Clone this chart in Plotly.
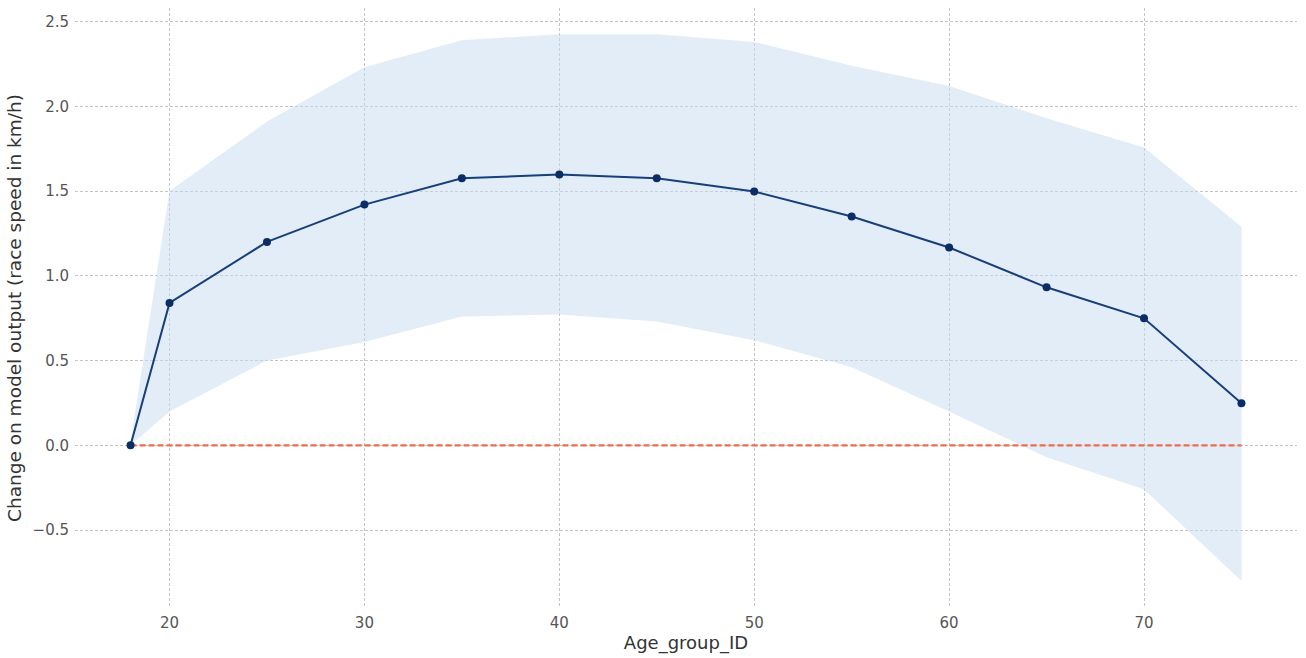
import plotly.graph_objects as go

age = [18, 20, 25, 30, 35, 40, 45, 50, 55, 60, 65, 70, 75]
mean = [0.0, 0.84, 1.20, 1.42, 1.575, 1.598, 1.576, 1.497, 1.35, 1.167, 0.932, 0.749, 0.248]
upper = [0.02, 1.50, 1.91, 2.23, 2.39, 2.425, 2.425, 2.38, 2.24, 2.12, 1.93, 1.757, 1.29]
lower = [0.0, 0.20, 0.50, 0.61, 0.76, 0.772, 0.73, 0.62, 0.46, 0.20, -0.07, -0.26, -0.80]
zero = [0.0] * len(age)

fig = go.Figure()
fig.add_trace(go.Scatter(x=age, y=upper, mode="lines", line=dict(width=0),
                         showlegend=False, hoverinfo="skip"))
fig.add_trace(go.Scatter(x=age, y=lower, mode="lines", line=dict(width=0),
                         fill="tonexty", fillcolor="rgba(200,220,241,0.5)",
                         showlegend=False, hoverinfo="skip"))
fig.add_trace(go.Scatter(x=age, y=zero, mode="lines",
                         line=dict(color="#ee6c4d", width=2.2, dash="6px,3px"),
                         showlegend=False))
fig.add_trace(go.Scatter(x=age, y=mean, mode="lines+markers",
                         line=dict(color="#173f7a", width=2),
                         marker=dict(color="#0b2d66", size=8),
                         showlegend=False))

fig.update_layout(
    width=1306, height=658,
    margin=dict(l=75, r=9, t=8, b=50),
    paper_bgcolor="white", plot_bgcolor="white",
    font=dict(family="DejaVu Sans, sans-serif", color="#444"),
)
fig.update_xaxes(
    range=[15.15, 77.85], tickvals=[20, 30, 40, 50, 60, 70],
    showgrid=True, gridcolor="#c4c4c4", griddash="3px,2px", gridwidth=1,
    zeroline=False, showline=False, ticks="",
    tickfont=dict(size=15, color="#555"), ticklabelstandoff=4,
    title=dict(text="Age_group_ID", font=dict(size=18, color="#333"), standoff=3),
)
fig.update_yaxes(
    range=[-0.96, 2.58], tickvals=[-0.5, 0.0, 0.5, 1.0, 1.5, 2.0, 2.5],
    ticktext=["\u22120.5", "0.0", "0.5", "1.0", "1.5", "2.0", "2.5"],
    showgrid=True, gridcolor="#c4c4c4", griddash="3px,2px", gridwidth=1,
    zeroline=False, showline=False, ticks="",
    tickfont=dict(size=15, color="#555"), ticklabelstandoff=5,
    title=dict(text="Change on model output (race speed in km/h)",
               font=dict(size=18.5, color="#333"), standoff=6),
)

fig.write_html("out.html")
